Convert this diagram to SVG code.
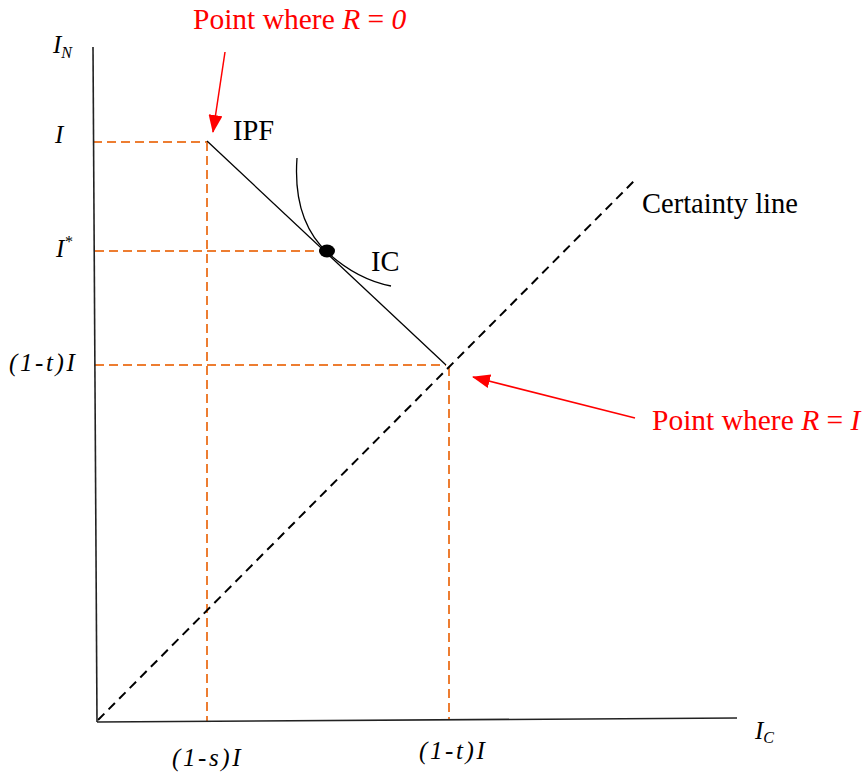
<svg xmlns="http://www.w3.org/2000/svg" width="867" height="772" viewBox="0 0 867 772">
<style>
text{font-family:"Liberation Serif","Times New Roman",serif;}
.lbl{font-size:28.5px;fill:#000;}
.red{font-size:29.5px;fill:#ff0000;}
.it{font-style:italic;}
.ax{font-size:25px;font-style:italic;fill:#000;}
.sp{letter-spacing:2.6px;}
.axis{stroke:#222;stroke-width:1.6;fill:none;}
.guide{stroke:#ed7d31;stroke-width:2;stroke-dasharray:9 5;fill:none;}
.cert{stroke:#000;stroke-width:2;stroke-dasharray:9 6;fill:none;}
.ipf{stroke:#000;stroke-width:1.3;fill:none;}
.redarr{stroke:#ff0000;stroke-width:1.5;fill:none;}
</style>
<defs>
<marker id="ahr" viewBox="0 0 18 14" refX="17" refY="7" markerWidth="18" markerHeight="14" orient="auto" markerUnits="userSpaceOnUse">
<path d="M0,0 L18,7 L0,14 z" fill="#ff0000"/>
</marker>
</defs>
<rect width="867" height="772" fill="#fff"/>
<g id="connectors">
<line class="guide" x1="93" y1="142" x2="207" y2="142"/>
<line class="guide" x1="207" y1="142" x2="207" y2="722"/>
<line class="guide" x1="95" y1="251" x2="322" y2="251"/>
<line class="guide" x1="95" y1="365" x2="446" y2="365"/>
<line class="guide" x1="449" y1="367" x2="449" y2="720"/>
<line class="cert" x1="98" y1="720" x2="637" y2="178"/>
<line id="ipf-line" class="ipf" x1="207" y1="141" x2="446" y2="365"/>
<path id="ic-curve" class="ipf" d="M297,158 C294,200 305,232 328,253 C348,271 370,282 391,286"/>
<line class="redarr" x1="225" y1="52" x2="213" y2="132" marker-end="url(#ahr)"/>
<line class="redarr" x1="635" y1="418" x2="473" y2="377" marker-end="url(#ahr)"/>
</g>
<g id="axes">
<line class="axis" x1="93" y1="47" x2="97" y2="722"/>
<line class="axis" x1="97" y1="722" x2="737" y2="718"/>
</g>
<g id="dot"><ellipse cx="327" cy="251" rx="8" ry="6.5" fill="#000"/></g>
<g id="label-r0"><text class="red" x="193" y="29">Point where <tspan class="it">R</tspan> = <tspan class="it">0</tspan></text></g>
<g id="label-rI"><text class="red" x="652" y="430">Point where <tspan class="it">R</tspan> = <tspan class="it">I</tspan></text></g>
<g id="label-ipf"><text class="lbl" x="233" y="140">IPF</text></g>
<g id="label-ic"><text class="lbl" x="371" y="271">IC</text></g>
<g id="label-cert"><text class="lbl" x="642" y="213">Certainty line</text></g>
<g id="label-in"><text class="ax" x="53" y="53">I<tspan font-size="16" dy="5">N</tspan></text></g>
<g id="label-i"><text class="ax" x="55" y="143">I</text></g>
<g id="label-istar"><text class="ax" x="56" y="257">I<tspan font-size="16" dy="-10">*</tspan></text></g>
<g id="label-1tI-left"><text class="ax sp" x="9" y="371">(1-t)I</text></g>
<g id="label-1sI"><text class="ax sp" x="172" y="766">(1-s)I</text></g>
<g id="label-1tI-bottom"><text class="ax sp" x="419" y="759">(1-t)I</text></g>
<g id="label-ic-axis"><text class="ax" x="755" y="739">I<tspan font-size="16" dy="4">C</tspan></text></g>
</svg>
